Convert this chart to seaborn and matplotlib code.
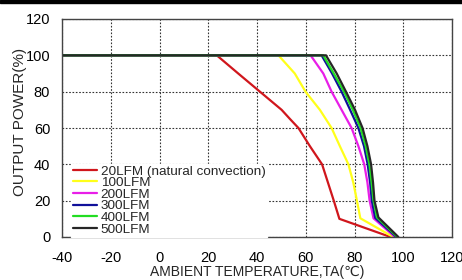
import pandas as pd
import seaborn as sns
import matplotlib.pyplot as plt
from matplotlib.patches import Rectangle

# Derating curves (x = ambient temp, y = output power %)
labels = ['20LFM (natural convection)', '100LFM', '200LFM', '300LFM', '400LFM', '500LFM']
colors = ['#d0161c', '#ffff1a', '#e81ee8', '#10109a', '#22dd22', '#262626']

temp_20 = [-40, 23.5, 32.3, 41.2, 50.1, 53.5, 57, 61.7, 66.7, 71.5, 73.8, 94.8]
power_20 = [100, 100, 90, 80, 70, 65, 60, 50, 40, 20, 10, 0]

temp_100 = [-40, 48.8, 55.5, 59.9, 65.8, 70.6, 74, 77.5, 79.5, 81, 82.4, 95.9]
power_100 = [100, 100, 90, 80, 70, 60, 50, 40, 30, 20, 10.3, 0]

temp_200 = [-40, 62, 67.2, 70.6, 74.7, 78.8, 81.6, 84, 85.3, 86.2, 87.8, 96.6]
power_200 = [100, 100, 90, 80, 70, 60, 50, 40, 30, 20, 10.3, 0]

temp_300 = [-40, 66.5, 70.8, 74.7, 78.2, 81.6, 83.9, 85.4, 86.4, 87.1, 88.5, 97.2]
power_300 = [100, 100, 90, 80, 70, 60, 50, 40, 30, 20, 10.5, 0]

temp_400 = [-40, 67.2, 71.5, 75.7, 79.3, 82.5, 84.6, 86.1, 87, 87.8, 89.2, 97.6]
power_400 = [100, 100, 90, 80, 70, 60, 50, 40, 30, 20, 10.8, 0]

temp_500 = [-40, 68.3, 72.7, 76.5, 80.2, 83.3, 85.3, 86.8, 87.6, 88.2, 89.8, 98]
power_500 = [100, 100, 90, 80, 70, 60, 50, 40, 30, 20, 10.8, 0]

xticks = [-40, -20, 0, 20, 40, 60, 80, 100, 120]
yticks = [0, 20, 40, 60, 80, 100, 120]

temps = [temp_20, temp_100, temp_200, temp_300, temp_400, temp_500]
powers = [power_20, power_100, power_200, power_300, power_400, power_500]
frames = []
for lab, t, p in zip(labels, temps, powers):
    frames.append(pd.DataFrame({'temp': t, 'power': p, 'airflow': lab}))
df = pd.concat(frames, ignore_index=True)

sns.set_style('white')
plt.rcParams['font.family'] = ['Liberation Sans', 'DejaVu Sans']
plt.rcParams['axes.unicode_minus'] = False

fig = plt.figure(figsize=(4.62, 2.80), dpi=100)
ax = fig.add_axes([62 / 462, 1 - 237 / 280, 390 / 462, 218 / 280])

# thin black strip along the top edge of the scan
fig.patches.append(Rectangle((0, 1 - 3 / 280), 1, 3 / 280, transform=fig.transFigure,
                             color='black', zorder=10))

sns.lineplot(data=df, x='temp', y='power', hue='airflow', hue_order=labels,
             palette=dict(zip(labels, colors)), sort=False, estimator=None,
             linewidth=1.6, ax=ax)

ax.set_xlim(-40, 120)
ax.set_ylim(0, 120)
ax.set_xticks(xticks)
ax.set_yticks(yticks)
ax.tick_params(axis='x', labelsize=10.5, length=0, pad=10, colors='black')
ax.tick_params(axis='y', labelsize=10.5, length=0, pad=8.5, colors='black')
ax.grid(True, color='#333333', linestyle=(0, (1.5, 1.5)), linewidth=0.8)
for s in ax.spines.values():
    s.set_color('#444444')
    s.set_linewidth(1.0)

ax.set_xlabel('AMBIENT TEMPERATURE,TA(\u2103)', fontsize=10, labelpad=0)
ax.set_ylabel('OUTPUT POWER(%)', fontsize=11)
ax.yaxis.set_label_coords(-0.09, 0.527)

leg = ax.legend(loc='lower left', bbox_to_anchor=(0.024, 0.0), borderaxespad=0.0,
                borderpad=0.1, labelspacing=-0.06, handlelength=1.78, handletextpad=0.3,
                fontsize=9.7, frameon=True, fancybox=False)
leg.get_frame().set_facecolor('white')
leg.get_frame().set_edgecolor('white')
leg.get_frame().set_alpha(1)
for line in leg.get_lines():
    line.set_linewidth(1.6)

fig.savefig('out.png', dpi=100)
